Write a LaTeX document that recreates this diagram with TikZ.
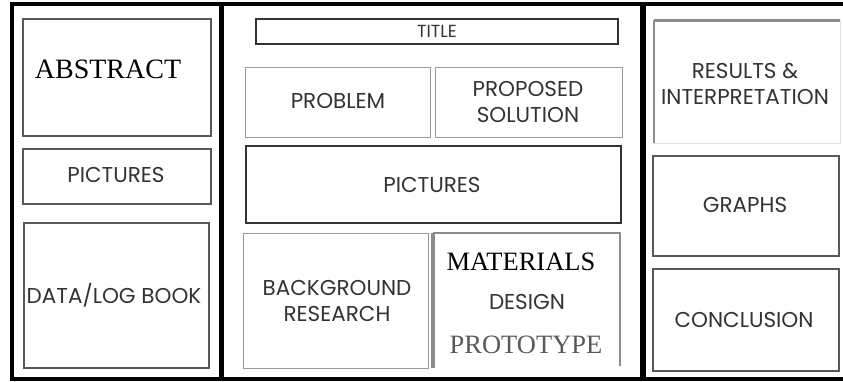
\documentclass[tikz,border=0pt]{standalone}
\usepackage{fontspec}
\setmainfont{Liberation Serif}
\newfontfamily\labelfont{Poppins}
\begin{document}
\begin{tikzpicture}[x=1pt,y=-1pt,
  frameline/.style={draw=black,line width=4pt},
  divider/.style={draw=black,line width=5.5pt},
  cell/.style={draw=black!65,line width=1.8pt,rectangle,inner sep=0pt,anchor=north west},
  softcell/.style={draw=black!40,line width=1.4pt,rectangle,inner sep=0pt,anchor=north west},
  darkcell/.style={draw=black!80,line width=2.2pt,rectangle,inner sep=0pt,anchor=north west},
  lbl/.style={font=\labelfont\fontsize{21.5}{26.5}\selectfont,text=black!80,align=center,inner sep=0pt},
  smalllbl/.style={font=\labelfont\fontsize{17.5}{20}\selectfont,text=black!80,inner sep=0pt},
  serifword/.style={font=\fontsize{26}{28}\selectfont,text=black,inner sep=0pt},
  lightserif/.style={font=\fontsize{26.5}{28}\selectfont,text=black!65,inner sep=0pt}
]
\useasboundingbox (0,0) rectangle (843,381);
\fill[white] (0,0) rectangle (843,381);

% outer frame (open on the right) and the two column dividers
\coordinate (ftl) at (12,3.5);
\coordinate (ftr) at (843,3.5);
\coordinate (fbl) at (12,379);
\coordinate (fbr) at (843,379);
\draw[frameline] (ftr) -- (ftl) -- (fbl) -- (fbr);
\coordinate (d1t) at (221.5,3);
\coordinate (d1b) at (221.5,379);
\coordinate (d2t) at (642.5,3);
\coordinate (d2b) at (642.5,379);
\draw[divider] (d1t) -- (d1b);
\draw[divider,line width=6pt] (d2t) -- (d2b);

% left column
\node[cell,minimum width=188pt,minimum height=117pt] (abstract) at (22,18) {};
\node[serifword,font=\fontsize{28}{30}\selectfont] (abstractT) at (108,69) {ABSTRACT};
\node[cell,minimum width=188pt,minimum height=55pt] (picsL) at (22,148) {};
\node[lbl] (picsLT) at (116,175) {PICTURES};
\node[cell,minimum width=185pt,minimum height=145pt] (data) at (23,222) {};
\node[lbl] (dataT) at (114,295) {DATA/LOG BOOK};

% middle column
\node[darkcell,minimum width=362pt,minimum height=25pt] (title) at (255,18) {};
\node[smalllbl] (titleT) at (437,31) {TITLE};
\node[softcell,minimum width=185pt,minimum height=70pt] (problem) at (245,67) {};
\node[lbl] (problemT) at (338,101) {PROBLEM};
\node[softcell,minimum width=187pt,minimum height=70pt] (solution) at (435,67) {};
\node[lbl] (solutionT) at (528,102) {PROPOSED\\SOLUTION};
\node[darkcell,minimum width=375pt,minimum height=77pt] (picsM) at (245,145) {};
\node[lbl] (picsMT) at (432,185) {PICTURES};
\node[softcell,minimum width=185pt,minimum height=135pt] (background) at (243,233) {};
\node[lbl] (backgroundT) at (337,301) {BACKGROUND\\RESEARCH};

% materials / design / prototype panel: heavy grey left edge, open bottom
\coordinate (mbl) at (433,368);
\coordinate (mtl) at (433,233);
\coordinate (mtr) at (620,233);
\coordinate (mbr) at (620,366);
\draw[draw=black!45,line width=4.5pt] (mbl) -- (mtl);
\draw[draw=black!45,line width=1.4pt] (mtl) -- (mtr) -- (mbr);
\node[serifword,font=\fontsize{26.5}{28}\selectfont] (materialsT) at (521,262) {MATERIALS};
\node[lbl] (designT) at (527,302) {DESIGN};
\node[lightserif] (prototypeT) at (526,345) {PROTOTYPE};

% right column
\coordinate (rbl) at (654,143);
\coordinate (rtl) at (654,20);
\coordinate (rtr) at (840,20);
\coordinate (rbr) at (840,143);
\draw[draw=black!45,line width=1.6pt] (rbl) -- (rtl);
\draw[draw=black!45,line width=3pt] (rtl) -- (rtr);
\draw[draw=black!12,line width=1pt] (rtr) -- (rbr) -- (rbl);
\node[lbl] (resultsT) at (745,84) {RESULTS \&\\INTERPRETATION};
\node[cell,minimum width=186pt,minimum height=100pt] (graphs) at (652,155) {};
\node[lbl] (graphsT) at (745,205) {GRAPHS};
\node[cell,minimum width=186pt,minimum height=102pt] (conclusion) at (652,268) {};
\node[lbl] (conclusionT) at (744,320) {CONCLUSION};
\end{tikzpicture}
\end{document}
